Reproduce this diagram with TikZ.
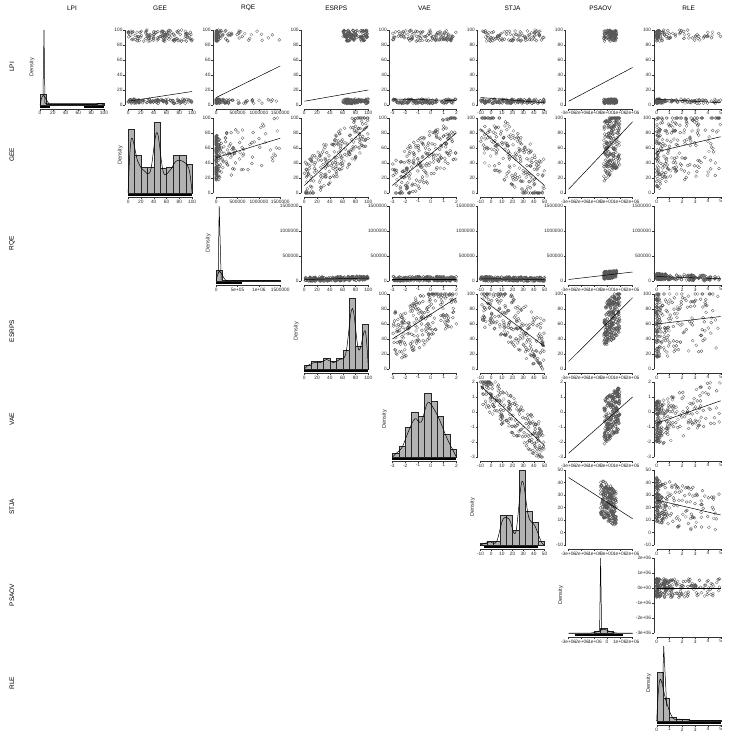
\documentclass[tikz,border=0pt]{standalone}
\usepackage{fontspec}
\setmainfont{Liberation Sans}
\tikzset{
  ax/.style={line width=0.3pt,black!80},
  tk/.style={font=\fontsize{4.8}{5}\selectfont,inner sep=0.5pt,text=black!85},
  pt/.style={draw=black!65,line width=0.3pt},
  reg/.style={line width=0.5pt,black},
  bar/.style={fill=black!30,draw=black!85,line width=0.35pt},
  hd/.style={font=\fontsize{6.5}{7}\selectfont},
}
\newcommand\setpan[2]{\pgfmathsetmacro\X{40+88.1*#2}\pgfmathsetmacro\T{30+88*#1}\pgfmathsetmacro\B{105+88*#1}}
\newcommand\xaxis[3]{\setpan{#1}{#2}%
  \edef\lst{#3}%
  \foreach \l [count=\n] in \lst {\xdef\N{\n}}%
  \draw[ax] (\X,\B+4) -- (\X+64,\B+4);
  \foreach \l [count=\i] in \lst {\pgfmathsetmacro\xx{\X+64*(\i-1)/(\N-1)}
    \draw[ax] (\xx,\B+4) -- (\xx,\B+6) node[tk,below] {\l};}}
\newcommand\yaxis[3]{\setpan{#1}{#2}%
  \edef\lst{#3}%
  \foreach \l [count=\n] in \lst {\xdef\N{\n}}%
  \draw[ax] (\X-3,\B) -- (\X-3,\T);
  \foreach \l [count=\i] in \lst {\pgfmathsetmacro\yy{\B-75*(\i-1)/(\N-1)}
    \draw[ax] (\X-3,\yy) -- (\X-5,\yy) node[tk,left] {\l};}}
% scatter: r c a b s cx sx p mode
\newcommand\scat[9]{\setpan{#1}{#2}%
  \draw[pt] \foreach \k in {1,...,220}{%
    \pgfextra{%
    \pgfmathsetmacro\u{max(0,min(1,#6+#7*rnd^#8))}%
    \pgfmathsetmacro\w{rnd}%
    \pgfmathsetmacro\v{#9==1 ? (\w<0.45 ? 0.85+0.15*rnd : 0.02+0.06*rnd) : #3+(#4-#3)*\u+#5*(rnd-0.5)}%
    \pgfmathsetmacro\v{max(0,min(1,\v))}%
    \pgfmathsetmacro\px{\X+64*\u}\pgfmathsetmacro\py{\B-75*\v}}
    (\px,\py) circle (1.5pt)};
  \draw[reg] (\X,\B-75*#3) -- (\X+64,\B-75*#4);}
% hist: k heights xlabels extra rugstart rugend
\newcommand\hist[6]{\setpan{#1}{#1}%
  \foreach \h [count=\n] in {#2}{\xdef\N{\n}}%
  \pgfmathsetmacro\bw{64/\N}%
  \gdef\pts{}%
  \foreach \h [count=\i] in {#2}{%
    \pgfmathsetmacro\xa{\X+\bw*(\i-1)}\pgfmathsetmacro\ya{\B-75*\h}%
    \draw[bar] (\xa,\B) rectangle (\xa+\bw,\ya);
    \pgfmathsetmacro\xm{\xa+\bw/2}\pgfmathsetmacro\ym{\B-75*(\h*0.85)}%
    \xdef\pts{\pts(\xm,\ym)}}
  \draw[line width=0.5pt] plot[smooth,tension=0.6] coordinates {(\X,\B) \pts (\X+64,\B)};
  #4
  \fill[black] (\X+64*#5,\B+0.8) rectangle (\X+64*#6,\B+2.6);
  \xaxis{#1}{#1}{#3}
  \node[tk,rotate=90,font=\fontsize{5.5}{5.5}\selectfont] at (\X-8,\T+37) {Density};}
\begin{document}
\begin{tikzpicture}[x=1pt,y=-1pt]
\useasboundingbox (0,0) rectangle (736,743);
\pgfmathsetseed{7}
\foreach \n [count=\i from 0] in {LPI,GEE,RQE,ESRPS,VAE,STJA,PSAOV,RLE}{
  \node[hd] (c\i) at (72+88.1*\i,8) {\n};
  \node[hd,rotate=90] (r\i) at (12,67+88*\i) {\n};}
\def\LA{0,20,40,60,80,100}
\def\LR{0,500000,1000000,1500000}
\def\LV{-3,-2,-1,0,1,2}
\def\LS{-10,0,10,20,30,40,50}
\def\LP{-3e+06,-2e+06,-1e+06,0e+00,1e+06,2e+06}
\def\LL{0,1,2,3,4,5}
% row 0
\foreach \c/\xl in {1/\LA,2/\LR,3/\LA,4/\LV,5/\LS,6/\LP,7/\LL}{\yaxis{0}{\c}{0,20,40,60,80,100}\xaxis{0}{\c}{\xl}}
\scat{0}{1}{0.05}{0.18}{0}{0}{1}{1}{1}
\scat{0}{2}{0.1}{0.52}{0}{0}{1}{6}{1}
\scat{0}{3}{0.05}{0.2}{0}{0.6}{0.4}{1}{1}
\scat{0}{4}{0.08}{0.06}{0}{0}{1}{1}{1}
\scat{0}{5}{0.1}{0.03}{0}{0}{1}{1}{1}
\scat{0}{6}{0.05}{0.5}{0}{0.55}{0.2}{1}{1}
\scat{0}{7}{0.08}{0.03}{0}{0}{1}{3}{1}
% row 1
\foreach \c/\xl in {2/\LR,3/\LA,4/\LV,5/\LS,6/\LP,7/\LL}{\yaxis{1}{\c}{0,20,40,60,80,100}\xaxis{1}{\c}{\xl}}
\scat{1}{2}{0.47}{0.73}{0.6}{0}{1}{6}{0}
\scat{1}{3}{0.1}{0.9}{0.6}{0}{1}{1}{0}
\scat{1}{4}{0.1}{0.8}{0.7}{0}{1}{1}{0}
\scat{1}{5}{0.85}{0.1}{0.8}{0}{1}{1}{0}
\scat{1}{6}{0.05}{0.95}{0.8}{0.55}{0.25}{1}{0}
\scat{1}{7}{0.55}{0.75}{1}{0}{1}{2}{0}
% row 2
\foreach \c/\xl in {3/\LA,4/\LV,5/\LS,6/\LP,7/\LL}{\yaxis{2}{\c}{0,500000,1000000,1500000}\xaxis{2}{\c}{\xl}}
\scat{2}{3}{0.02}{0.04}{0.06}{0}{1}{1}{0}
\scat{2}{4}{0.03}{0.03}{0.06}{0}{1}{1}{0}
\scat{2}{5}{0.03}{0.02}{0.06}{0}{1}{1}{0}
\scat{2}{6}{0.02}{0.12}{0.1}{0.55}{0.2}{1}{0}
\scat{2}{7}{0.06}{0.03}{0.08}{0}{1}{3}{0}
% row 3
\foreach \c/\xl in {4/\LV,5/\LS,6/\LP,7/\LL}{\yaxis{3}{\c}{0,20,40,60,80,100}\xaxis{3}{\c}{\xl}}
\scat{3}{4}{0.4}{0.95}{0.7}{0}{1}{1}{0}
\scat{3}{5}{0.95}{0.3}{0.7}{0}{1}{1}{0}
\scat{3}{6}{0.1}{0.95}{0.6}{0.55}{0.25}{1}{0}
\scat{3}{7}{0.6}{0.7}{0.9}{0}{1}{3}{0}
% row 4
\foreach \c/\xl in {5/\LS,6/\LP,7/\LL}{\yaxis{4}{\c}{-3,-2,-1,0,1,2}\xaxis{4}{\c}{\xl}}
\scat{4}{5}{0.95}{0.15}{0.5}{0}{1}{1}{0}
\scat{4}{6}{0.05}{0.8}{0.6}{0.55}{0.25}{1}{0}
\scat{4}{7}{0.45}{0.75}{0.6}{0}{1}{3}{0}
% row 5
\foreach \c/\xl in {6/\LP,7/\LL}{\yaxis{5}{\c}{-10,0,10,20,30,40,50}\xaxis{5}{\c}{\xl}}
\scat{5}{6}{0.9}{0.35}{0.5}{0.5}{0.25}{1}{0}
\scat{5}{7}{0.6}{0.4}{0.6}{0}{1}{3}{0}
% row 6
\yaxis{6}{7}{-3e+06,-2e+06,-1e+06,0e+00,1e+06,2e+06}\xaxis{6}{7}{\LL}
\scat{6}{7}{0.6}{0.6}{0.25}{0}{1}{3}{0}
% diagonal histograms
\hist{0}{0.15,0.01,0.01,0.01,0.01,0.01,0.01,0.01,0.01,0.02}{0,20,40,60,80,100}{\draw[line width=0.5pt] (\X+3,\B-75*0.13) -- (\X+4,\T) -- (\X+5,\B-75*0.02) -- (\X+64,\B-75*0.02);\fill[black] (\X+44,\B+0.8) rectangle (\X+64,\B+2.6);}{0}{0.15}
\hist{1}{0.85,0.5,0.35,0.35,0.95,0.33,0.35,0.5,0.5,0.38}{0,20,40,60,80,100}{}{0}{1}
\hist{2}{0.15,0.01,0.005,0.005,0.005,0.005,0.005,0.005,0.005,0.005}{0,5e+05,1e+06,1500000}{\draw[line width=0.5pt] (\X+2,\B-75*0.1) -- (\X+3,\T) -- (\X+5,\B-75*0.01);}{0}{0.4}
\hist{3}{0.05,0.1,0.1,0.15,0.1,0.15,0.25,0.95,0.3,0.6}{0,20,40,60,80,100}{}{0}{1}
\hist{4}{0.05,0.15,0.4,0.6,0.55,0.85,0.75,0.55,0.3,0.1}{-3,-2,-1,0,1,2}{}{0}{1}
\hist{5}{0.02,0.05,0.05,0.4,0.4,0.2,1,0.45,0.3,0.05}{-10,0,10,20,30,40,50}{}{0.05}{0.9}
\hist{6}{0,0,0,0,0.02,0.06,0.02,0,0,0}{-3e+06,-2e+06,-1e+06,0,1e+06,2e+06}{\draw[line width=0.5pt] (\X+31,\B-75*0.04) -- (\X+32,\T) -- (\X+33,\B-75*0.04);}{0.1}{0.85}
\hist{7}{0.65,0.3,0.05,0.03,0.02,0.01,0.01,0.01,0.01,0.01}{0,1,2,3,4,5}{\draw[line width=0.5pt] (\X+6,\B-75*0.5) -- (\X+7,\T) -- (\X+10,\B-75*0.2);}{0}{1}
\end{tikzpicture}
\end{document}
